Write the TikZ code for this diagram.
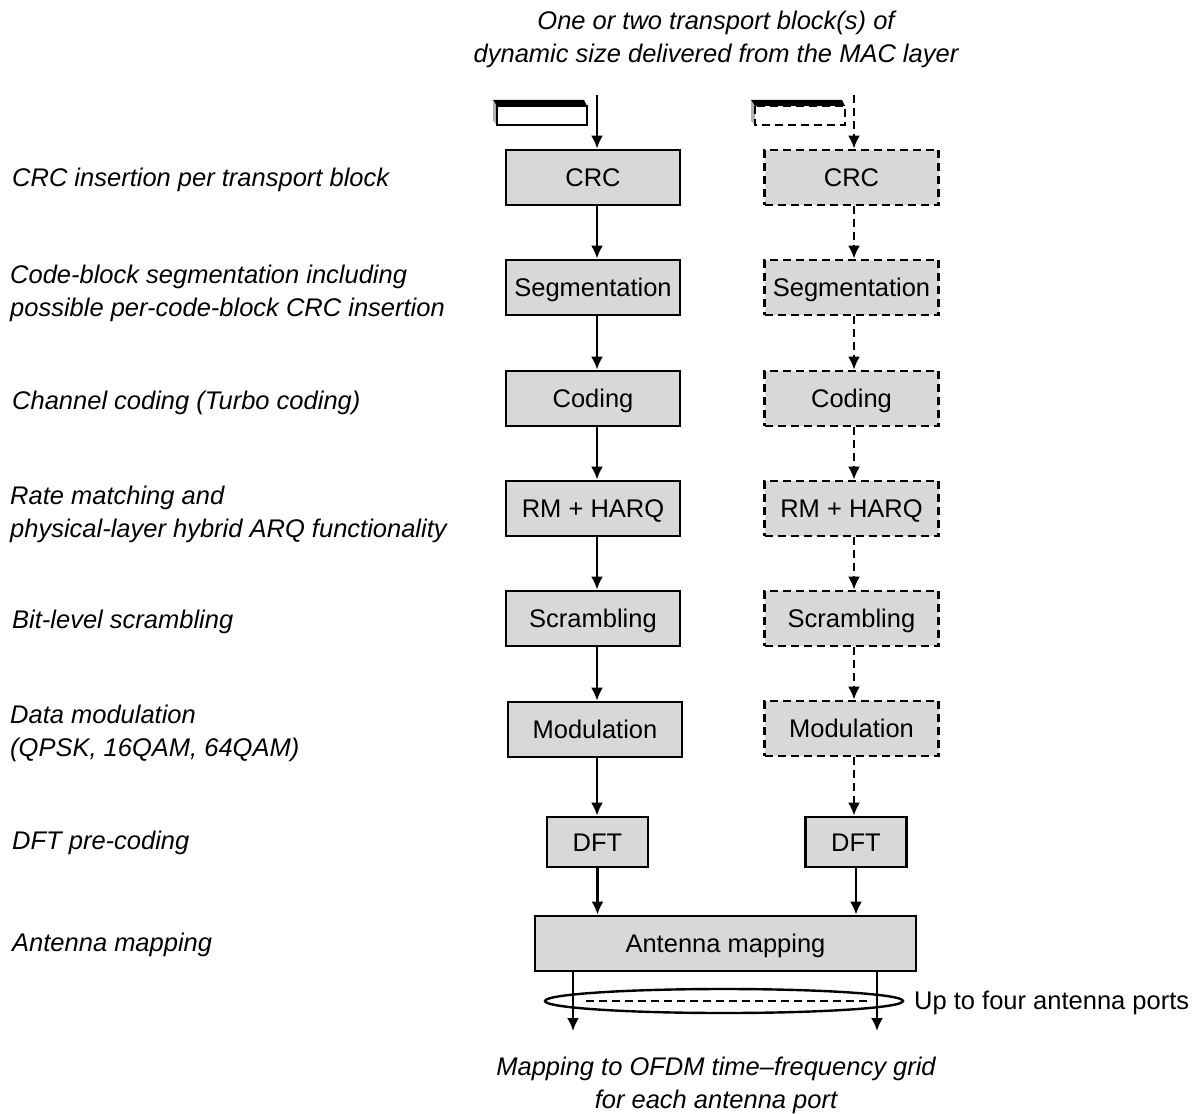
\documentclass[tikz,border=0pt]{standalone}
\usepackage{fontspec}
\setmainfont{Liberation Sans}
\usetikzlibrary{arrows.meta,shapes.geometric}
\definecolor{boxfill}{RGB}{216,216,216}
\begin{document}
\begin{tikzpicture}[x=1pt,y=-1pt,
  every node/.style={font=\fontsize{25.5}{32}\selectfont},
  blk/.style={draw=black,line width=2.8pt,fill=boxfill,minimum height=55pt,inner sep=0pt,text height=18.3pt,text depth=0pt},
  wide/.style={blk,minimum width=174pt},
  dblk/.style={wide,dash pattern=on 8pt off 5pt},
  dftb/.style={blk,minimum width=101pt,minimum height=50pt},
  arr/.style={line width=2.4pt,-{Latex[length=13pt,width=12pt]}},
  darr/.style={arr,dash pattern=on 8pt off 5pt},
  lab/.style={anchor=west,font=\fontsize{25.5}{33}\selectfont\itshape,align=left,inner sep=0pt},
  ctext/.style={font=\fontsize{25.5}{33}\selectfont\itshape,align=center,inner sep=0pt}
]
\useasboundingbox (0,0) rectangle (1198,1113);

% header
\node[ctext] (head) at (716,39) {One or two transport block(s) of\\dynamic size delivered from the MAC layer};

% transport blocks
\fill[gray!60] (493,101)--(497,106)--(497,125)--(493,121)--cycle;
\fill[black] (493,100)--(584,100)--(587,106)--(497,106)--cycle;
\draw[line width=2.4pt,fill=white] (497,106) rectangle (587,125);
\fill[gray!60] (751,101)--(755,106)--(755,125)--(751,121)--cycle;
\fill[black] (751,100)--(842,100)--(845,106)--(755,106)--cycle;
\draw[line width=2.4pt,fill=white,dash pattern=on 8pt off 5pt] (755,106) rectangle (845,125);

% left column
\node[wide] (crcL) at (593,177.5) {CRC};
\node[wide] (segL) at (593,287.5) {Segmentation};
\node[wide] (codL) at (593,398.5) {Coding};
\node[wide] (rmL)  at (593,508.5) {RM + HARQ};
\node[wide] (scrL) at (593,618.5) {Scrambling};
\node[wide] (modL) at (595,729.5) {Modulation};
\node[dftb] (dftL) at (597.5,842) {DFT};

% right column
\node[dblk] (crcR) at (851.5,177.5) {CRC};
\node[dblk] (segR) at (851.5,287.5) {Segmentation};
\node[dblk] (codR) at (851.5,398.5) {Coding};
\node[dblk] (rmR)  at (851.5,508.5) {RM + HARQ};
\node[dblk] (scrR) at (851.5,618.5) {Scrambling};
\node[dblk] (modR) at (851.5,728.5) {Modulation};
\node[dftb] (dftR) at (856,842) {DFT};

\node[blk,minimum width=381pt] (ant) at (725.5,943.5) {Antenna mapping};

% arrows
\coordinate (topL) at (597,95);
\coordinate (topR) at (854,95);
\draw[arr] (topL) -- (topL |- crcL.north);
\draw[darr] (topR) -- (topR |- crcR.north);
\foreach \a/\b in {crcL/segL,segL/codL,codL/rmL,rmL/scrL,scrL/modL}{
  \draw[arr] (\a.south -| topL) -- (\b.north -| topL);}
\draw[arr] (modL.south -| topL) -- (dftL.north -| topL);
\foreach \a/\b in {crcR/segR,segR/codR,codR/rmR,rmR/scrR,scrR/modR}{
  \draw[darr] (\a.south -| topR) -- (\b.north -| topR);}
\draw[darr] (modR.south -| topR) -- (dftR.north -| topR);
\draw[arr] (dftL.south) -- (dftL.south |- ant.north);
\draw[arr] (dftR.south) -- (dftR.south |- ant.north);

% antenna ports
\coordinate (out1) at (573,1031);
\coordinate (out2) at (877,1031);
\node[draw,line width=2.4pt,ellipse,minimum width=358pt,minimum height=24pt,inner sep=0pt] (ell) at (724,1001) {};
\coordinate (dl1) at (586,1001);
\coordinate (dl2) at (868,1001);
\draw[line width=2.4pt,dash pattern=on 8pt off 5pt] (dl1) -- (dl2);
\draw[arr] (ant.south -| out1) -- (out1);
\draw[arr] (ant.south -| out2) -- (out2);
\node[anchor=west,inner sep=0pt] (ports) at (914,1003) {Up to four antenna ports};

\node[ctext] (foot) at (716,1085) {Mapping to OFDM time--frequency grid\\for each antenna port};

% left labels
\node[lab] (l1) at (12,180) {CRC insertion per transport block};
\node[lab] (l2) at (10,293) {Code-block segmentation including\\possible per-code-block CRC insertion};
\node[lab] (l3) at (12,403) {Channel coding (Turbo coding)};
\node[lab] (l4) at (10,514) {Rate matching and\\physical-layer hybrid ARQ functionality};
\node[lab] (l5) at (12,622) {Bit-level scrambling};
\node[lab] (l6) at (10,733) {Data modulation\\(QPSK, 16QAM, 64QAM)};
\node[lab] (l7) at (12,843) {DFT pre-coding};
\node[lab] (l8) at (12,945) {Antenna mapping};
\end{tikzpicture}
\end{document}
